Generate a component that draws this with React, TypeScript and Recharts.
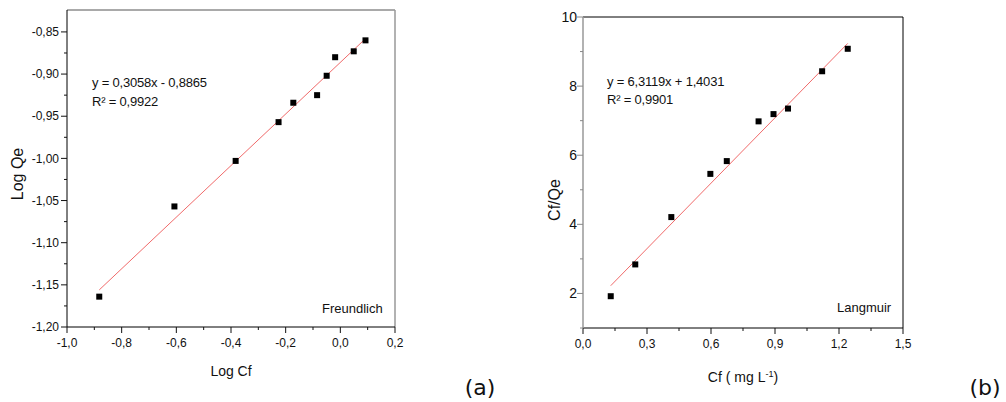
import React from "react";
import { ScatterChart, Scatter, XAxis, YAxis, ReferenceLine } from "recharts";

// (a) Freundlich: Log Cf vs Log Qe
const freundlichLogCf = [-0.882, -0.607, -0.383, -0.226, -0.172, -0.085, -0.05, -0.019, 0.049, 0.092];
const freundlichLogQe = [-1.164, -1.057, -1.003, -0.957, -0.934, -0.925, -0.902, -0.88, -0.873, -0.86];
const freundlichFitX = [-0.882, 0.092];
const freundlichFitY = [-1.156, -0.858];

// (b) Langmuir: Cf vs Cf/Qe
const langmuirCf = [0.13, 0.245, 0.414, 0.597, 0.674, 0.823, 0.893, 0.961, 1.121, 1.241];
const langmuirCfQe = [1.92, 2.84, 4.21, 5.46, 5.83, 6.98, 7.19, 7.35, 8.43, 9.08];
const langmuirFitX = [0.13, 1.241];
const langmuirFitY = [2.224, 9.236];

// axis ranges and ticks
const leftXDomain = [-1.0, 0.2];
const leftYDomain = [-1.2, -0.824];
const rightXDomain = [0, 1.5];
const rightYDomain = [1, 10];
const leftXMajor = [-1.0, -0.8, -0.6, -0.4, -0.2, 0, 0.2];
const leftXMinor = [-0.9, -0.7, -0.5, -0.3, -0.1, 0.1];
const leftYMajor = [-1.2, -1.15, -1.1, -1.05, -1.0, -0.95, -0.9, -0.85];
const leftYMinor = [-1.175, -1.125, -1.075, -1.025, -0.975, -0.925, -0.875];
const rightXMajor = [0, 0.3, 0.6, 0.9, 1.2, 1.5];
const rightXMinor = [0.15, 0.45, 0.75, 1.05, 1.35];
const rightYMajor = [2, 4, 6, 8, 10];
const rightYMinor = [1, 3, 5, 7, 9];

const FONT = "'Liberation Sans', Arial, sans-serif";
const FIT_RED = "#f06a6a";

const toPoints = (xs: number[], ys: number[]) => xs.map((x, i) => ({ x, y: ys[i] }));
const comma = (digits: number) => (v: number) => v.toFixed(digits).replace(".", ",");
const isMajor = (majors: number[], v: number) => majors.some((m) => Math.abs(m - v) < 1e-9);

function makeXTick(majors: number[], fmt: (v: number) => string, fontSize: number) {
  return (props: any) => {
    const { x, y, payload } = props;
    const major = isMajor(majors, payload.value);
    return (
      <g>
        <line x1={x} y1={y} x2={x} y2={y + (major ? 6 : 3)} stroke="#111" />
        {major && (
          <text x={x} y={y + 20} textAnchor="middle" fontSize={fontSize} fontFamily={FONT} fill="#111">
            {fmt(payload.value)}
          </text>
        )}
      </g>
    );
  };
}

function makeYTick(majors: number[], fmt: (v: number) => string, fontSize: number, stroke: string, gap: number) {
  return (props: any) => {
    const { x, y, payload } = props;
    const major = isMajor(majors, payload.value);
    return (
      <g>
        <line x1={x - (major ? 6 : 3)} y1={y} x2={x} y2={y} stroke={stroke} />
        {major && (
          <text x={x - gap} y={y} dy="0.35em" textAnchor="end" fontSize={fontSize} fontFamily={FONT} fill="#111">
            {fmt(payload.value)}
          </text>
        )}
      </g>
    );
  };
}

const Square = (props: any) => {
  const { cx, cy } = props;
  return <rect x={cx - 3} y={cy - 3} width={6} height={6} fill="#000" />;
};
const NoShape = () => <g />;

const abs = (left: number, top: number, extra: React.CSSProperties = {}): React.CSSProperties => ({
  position: "absolute",
  left,
  top,
  whiteSpace: "nowrap",
  lineHeight: 1,
  fontFamily: FONT,
  color: "#111",
  ...extra,
});

export default function App() {
  const fPoints = toPoints(freundlichLogCf, freundlichLogQe);
  const fFit = toPoints(freundlichFitX, freundlichFitY);
  const lPoints = toPoints(langmuirCf, langmuirCfQe);
  const lFit = toPoints(langmuirFitX, langmuirFitY);

  return (
    <div style={{ position: "absolute", left: 0, top: 0, width: 1006, height: 402, background: "#fff", overflow: "hidden" }}>
      {/* (a) Freundlich */}
      <div style={{ position: "absolute", left: 0, top: 0 }}>
        <ScatterChart width={420} height={402} margin={{ top: 10, right: 25, bottom: 45, left: 0 }}>
          <XAxis
            dataKey="x"
            type="number"
            domain={leftXDomain}
            ticks={[...leftXMajor, ...leftXMinor]}
            interval={0}
            tick={makeXTick(leftXMajor, comma(1), 12)}
            tickSize={0}
            tickMargin={0}
            height={30}
            axisLine={{ stroke: "#000" }}
            allowDataOverflow
          />
          <YAxis
            dataKey="y"
            type="number"
            domain={leftYDomain}
            ticks={[...leftYMajor, ...leftYMinor]}
            interval={0}
            tick={makeYTick(leftYMajor, comma(2), 12, "#111", 8)}
            tickSize={0}
            tickMargin={0}
            width={67}
            axisLine={{ stroke: "#000" }}
            allowDataOverflow
          />
          <ReferenceLine y={leftYDomain[1]} stroke="#555" />
          <ReferenceLine x={leftXDomain[1]} stroke="#999" strokeWidth={1.5} />
          <Scatter data={fFit} line={{ stroke: FIT_RED, strokeWidth: 1 }} shape={NoShape} isAnimationActive={false} />
          <Scatter data={fPoints} shape={Square} isAnimationActive={false} />
        </ScatterChart>
      </div>

      {/* (b) Langmuir */}
      <div style={{ position: "absolute", left: 520, top: 0 }}>
        <ScatterChart width={420} height={402} margin={{ top: 17, right: 37, bottom: 44, left: 0 }}>
          <XAxis
            dataKey="x"
            type="number"
            domain={rightXDomain}
            ticks={[...rightXMajor, ...rightXMinor]}
            interval={0}
            tick={makeXTick(rightXMajor, comma(1), 12)}
            tickSize={0}
            tickMargin={0}
            height={30}
            axisLine={{ stroke: "#000" }}
            allowDataOverflow
          />
          <YAxis
            dataKey="y"
            type="number"
            domain={rightYDomain}
            ticks={[...rightYMajor, ...rightYMinor]}
            interval={0}
            tick={makeYTick(rightYMajor, (v) => String(v), 14, "#888", 6)}
            tickSize={0}
            tickMargin={0}
            width={63}
            axisLine={{ stroke: "#999", strokeWidth: 1.5 }}
            allowDataOverflow
          />
          <ReferenceLine y={rightYDomain[1]} stroke="#000" />
          <ReferenceLine x={rightXDomain[1]} stroke="#000" />
          <Scatter data={lFit} line={{ stroke: FIT_RED, strokeWidth: 1 }} shape={NoShape} isAnimationActive={false} />
          <Scatter data={lPoints} shape={Square} isAnimationActive={false} />
        </ScatterChart>
      </div>

      {/* text for (a) */}
      <div style={abs(18, 174, { fontSize: 16, transform: "translate(-50%, -50%) rotate(-90deg)" })}>Log Qe</div>
      <div style={abs(231, 371, { fontSize: 14, transform: "translate(-50%, -50%)" })}>Log Cf</div>
      <div style={abs(92, 82, { fontSize: 13, transform: "translateY(-50%)", letterSpacing: -0.2 })}>y = 0,3058x - 0,8865</div>
      <div style={abs(92, 101, { fontSize: 13, transform: "translateY(-50%)", letterSpacing: -0.2 })}>R² = 0,9922</div>
      <div style={abs(322, 308, { fontSize: 13, transform: "translateY(-50%)" })}>Freundlich</div>
      <div style={abs(480, 388, { fontSize: 22, fontFamily: "'DejaVu Sans', sans-serif", transform: "translate(-50%, -50%)" })}>(a)</div>

      {/* text for (b) */}
      <div style={abs(555, 200, { fontSize: 16, transform: "translate(-50%, -50%) rotate(-90deg)" })}>Cf/Qe</div>
      <div style={abs(743, 377, { fontSize: 14, transform: "translate(-50%, -50%)" })}>
        Cf ( mg L<sup style={{ fontSize: 9 }}>-1</sup>)
      </div>
      <div style={abs(607, 81, { fontSize: 13, transform: "translateY(-50%)", letterSpacing: -0.2 })}>y = 6,3119x + 1,4031</div>
      <div style={abs(607, 99, { fontSize: 13, transform: "translateY(-50%)", letterSpacing: -0.2 })}>R² = 0,9901</div>
      <div style={abs(837, 307, { fontSize: 13, transform: "translateY(-50%)" })}>Langmuir</div>
      <div style={abs(985, 388, { fontSize: 22, fontFamily: "'DejaVu Sans', sans-serif", transform: "translate(-50%, -50%)" })}>(b)</div>
    </div>
  );
}
